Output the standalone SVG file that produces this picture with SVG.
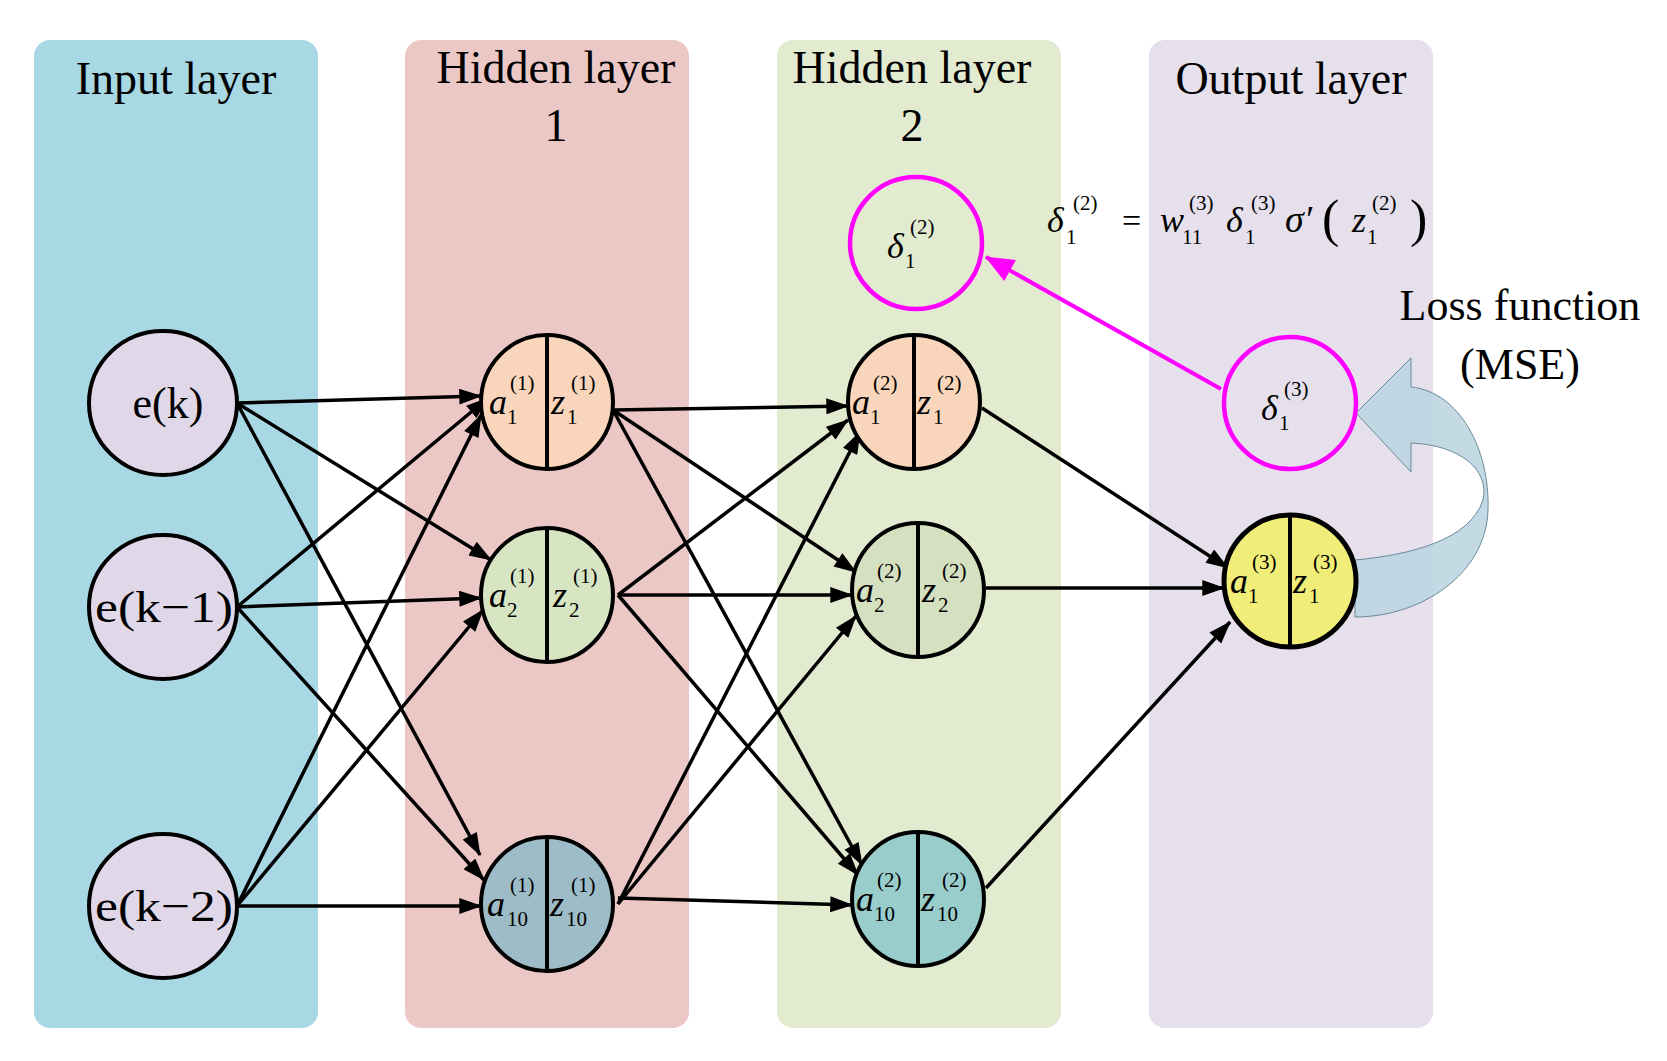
<svg xmlns="http://www.w3.org/2000/svg" width="1667" height="1061" viewBox="0 0 1667 1061">
<defs>
<marker id="ah" viewBox="0 0 20 14" refX="19" refY="7" markerWidth="24" markerHeight="16" markerUnits="userSpaceOnUse" orient="auto"><path d="M0,0 L20,7 L0,14 Z" fill="#000"/></marker>
<marker id="mh" viewBox="0 0 24 20" refX="23" refY="10" markerWidth="30" markerHeight="24" markerUnits="userSpaceOnUse" orient="auto"><path d="M0,0 L24,10 L0,20 Z" fill="#ff00ff"/></marker>
</defs>
<style>
.t{font-family:"Liberation Serif","Times New Roman",serif;fill:#000}
.title{font-size:46px;text-anchor:middle}
.m{font-size:36px;font-style:italic}
.s{font-size:21px}
.n{stroke:#000;stroke-width:4}
.e{stroke:#000;stroke-width:3.5;fill:none;marker-end:url(#ah)}
</style>
<g id="panels">
<rect x="34" y="40" width="284" height="988" rx="16" fill="#a8d8e3"/>
<rect x="405" y="40" width="284" height="988" rx="16" fill="#ebc8c6"/>
<rect x="777" y="40" width="284" height="988" rx="16" fill="#e2ead0"/>
<rect x="1149" y="40" width="284" height="988" rx="16" fill="#e6e0ec"/>
<text class="t title" x="176" y="94">Input layer</text>
<text class="t title" x="556" y="83">Hidden layer</text>
<text class="t title" x="556" y="141">1</text>
<text class="t title" x="912" y="83">Hidden layer</text>
<text class="t title" x="912" y="141">2</text>
<text class="t title" x="1291" y="94">Output layer</text>
</g>
<g id="connectors">
<line class="e" x1="237" y1="403" x2="481" y2="396"/>
<line class="e" x1="237" y1="403" x2="491" y2="560"/>
<line class="e" x1="237" y1="403" x2="480" y2="855"/>
<line class="e" x1="237" y1="607" x2="488" y2="398"/>
<line class="e" x1="237" y1="607" x2="481" y2="598"/>
<line class="e" x1="237" y1="607" x2="484" y2="880"/>
<line class="e" x1="237" y1="906" x2="481" y2="415"/>
<line class="e" x1="237" y1="906" x2="483" y2="610"/>
<line class="e" x1="237" y1="906" x2="481" y2="906"/>
<line class="e" x1="613" y1="410" x2="848" y2="406"/>
<line class="e" x1="613" y1="410" x2="856" y2="572"/>
<line class="e" x1="613" y1="410" x2="862" y2="865"/>
<line class="e" x1="618" y1="595" x2="848" y2="420"/>
<line class="e" x1="618" y1="595" x2="852" y2="595"/>
<line class="e" x1="618" y1="595" x2="858" y2="875"/>
<line class="e" x1="618" y1="904" x2="860" y2="432"/>
<line class="e" x1="618" y1="904" x2="856" y2="616"/>
<line class="e" x1="618" y1="898" x2="852" y2="905"/>
<line class="e" x1="982" y1="408" x2="1228" y2="568"/>
<line class="e" x1="986" y1="588" x2="1224" y2="588"/>
<line class="e" x1="986" y1="888" x2="1230" y2="622"/>
<line x1="1221" y1="389" x2="986" y2="257" stroke="#ff00ff" stroke-width="4" marker-end="url(#mh)"/>
<path d="M1356,413 L1411,358 L1411,387 C1460,392 1490,450 1488,510 C1486,575 1420,617 1355,617 L1355,560 C1410,555 1470,540 1483,500 C1490,470 1460,445 1411,443 L1411,472 Z" fill="#b8d4e0" fill-opacity="0.85" stroke="#6a8a9a" stroke-width="1"/>
</g>
<g id="input-nodes">
<ellipse class="n" cx="163" cy="403" rx="74" ry="72" fill="#e0d8e8"/>
<text class="t" x="168" y="418" font-size="44" text-anchor="middle">e(k)</text>
<ellipse class="n" cx="163" cy="607" rx="74" ry="72" fill="#e0d8e8"/>
<text class="t" x="95" y="622" font-size="44" textLength="138" lengthAdjust="spacingAndGlyphs">e(k−1)</text>
<ellipse class="n" cx="163" cy="906" rx="74" ry="72" fill="#e0d8e8"/>
<text class="t" x="95" y="921" font-size="44" textLength="138" lengthAdjust="spacingAndGlyphs">e(k−2)</text>
</g>
<g id="h1-node1">
<ellipse class="n" cx="547" cy="402" rx="66" ry="67" fill="#f8d5bb"/><line class="n" x1="547" y1="335" x2="547" y2="469"/>
<text class="t m" x="489" y="414">a</text><text class="t s" x="507" y="424">1</text><text class="t s" x="510" y="390">(1)</text>
<text class="t m" x="551" y="414">z</text><text class="t s" x="567" y="424">1</text><text class="t s" x="571" y="390">(1)</text>
</g>
<g id="h1-node2">
<ellipse class="n" cx="547" cy="595" rx="66" ry="67" fill="#d8e5c3"/><line class="n" x1="547" y1="528" x2="547" y2="662"/>
<text class="t m" x="489" y="607">a</text><text class="t s" x="507" y="617">2</text><text class="t s" x="510" y="583">(1)</text>
<text class="t m" x="553" y="607">z</text><text class="t s" x="569" y="617">2</text><text class="t s" x="573" y="583">(1)</text>
</g>
<g id="h1-node10">
<ellipse class="n" cx="547" cy="904" rx="66" ry="67" fill="#9dbcc8"/><line class="n" x1="547" y1="837" x2="547" y2="971"/>
<text class="t m" x="487" y="916">a</text><text class="t s" x="507" y="926">10</text><text class="t s" x="510" y="892">(1)</text>
<text class="t m" x="550" y="916">z</text><text class="t s" x="566" y="926">10</text><text class="t s" x="571" y="892">(1)</text>
</g>
<g id="h2-node1">
<ellipse class="n" cx="914" cy="402" rx="66" ry="67" fill="#f8d5bb"/><line class="n" x1="914" y1="335" x2="914" y2="469"/>
<text class="t m" x="852" y="414">a</text><text class="t s" x="870" y="424">1</text><text class="t s" x="873" y="390">(2)</text>
<text class="t m" x="917" y="414">z</text><text class="t s" x="933" y="424">1</text><text class="t s" x="937" y="390">(2)</text>
</g>
<g id="h2-node2">
<ellipse class="n" cx="918" cy="590" rx="66" ry="67" fill="#d5e0c0"/><line class="n" x1="918" y1="523" x2="918" y2="657"/>
<text class="t m" x="856" y="602">a</text><text class="t s" x="874" y="612">2</text><text class="t s" x="877" y="578">(2)</text>
<text class="t m" x="922" y="602">z</text><text class="t s" x="938" y="612">2</text><text class="t s" x="942" y="578">(2)</text>
</g>
<g id="h2-node10">
<ellipse class="n" cx="918" cy="899" rx="66" ry="67" fill="#99cdcc"/><line class="n" x1="918" y1="832" x2="918" y2="966"/>
<text class="t m" x="856" y="911">a</text><text class="t s" x="874" y="921">10</text><text class="t s" x="877" y="887">(2)</text>
<text class="t m" x="921" y="911">z</text><text class="t s" x="937" y="921">10</text><text class="t s" x="942" y="887">(2)</text>
</g>
<g id="output-node">
<ellipse cx="1290" cy="581" rx="66" ry="66" fill="#f0ee78" stroke="#000" stroke-width="5"/><line class="n" x1="1290" y1="515" x2="1290" y2="647"/>
<text class="t m" x="1230" y="593">a</text><text class="t s" x="1248" y="603">1</text><text class="t s" x="1252" y="569">(3)</text>
<text class="t m" x="1293" y="593">z</text><text class="t s" x="1309" y="603">1</text><text class="t s" x="1313" y="569">(3)</text>
</g>
<g id="delta3">
<ellipse cx="1290" cy="403" rx="66" ry="66" fill="none" stroke="#ff00ff" stroke-width="4.5"/>
<text class="t m" x="1261" y="420">δ</text><text class="t s" x="1279" y="430">1</text><text class="t s" x="1284" y="396">(3)</text>
</g>
<g id="delta2">
<ellipse cx="916" cy="243" rx="66" ry="66" fill="none" stroke="#ff00ff" stroke-width="4.5"/>
<text class="t m" x="887" y="258">δ</text><text class="t s" x="905" y="268">1</text><text class="t s" x="910" y="234">(2)</text>
</g>
<g id="formula">
<text class="t m" x="1047" y="232">δ</text><text class="t s" x="1066" y="244">1</text><text class="t s" x="1073" y="210">(2)</text>
<text class="t" x="1122" y="232" font-size="34">=</text>
<text class="t m" x="1160" y="232">w</text><text class="t s" x="1182" y="244">11</text><text class="t s" x="1189" y="210">(3)</text>
<text class="t m" x="1226" y="232">δ</text><text class="t s" x="1245" y="244">1</text><text class="t s" x="1251" y="210">(3)</text>
<text class="t" x="1285" y="232" font-size="38" font-style="italic">σ′</text>
<text class="t" x="1322" y="236" font-size="52">(</text>
<text class="t m" x="1352" y="232">z</text><text class="t s" x="1367" y="244">1</text><text class="t s" x="1372" y="210">(2)</text>
<text class="t" x="1410" y="236" font-size="52">)</text>
</g>
<g id="loss-label">
<text class="t" x="1520" y="320" font-size="44" text-anchor="middle">Loss function</text>
<text class="t" x="1520" y="379" font-size="44" text-anchor="middle">(MSE)</text>
</g>
</svg>
